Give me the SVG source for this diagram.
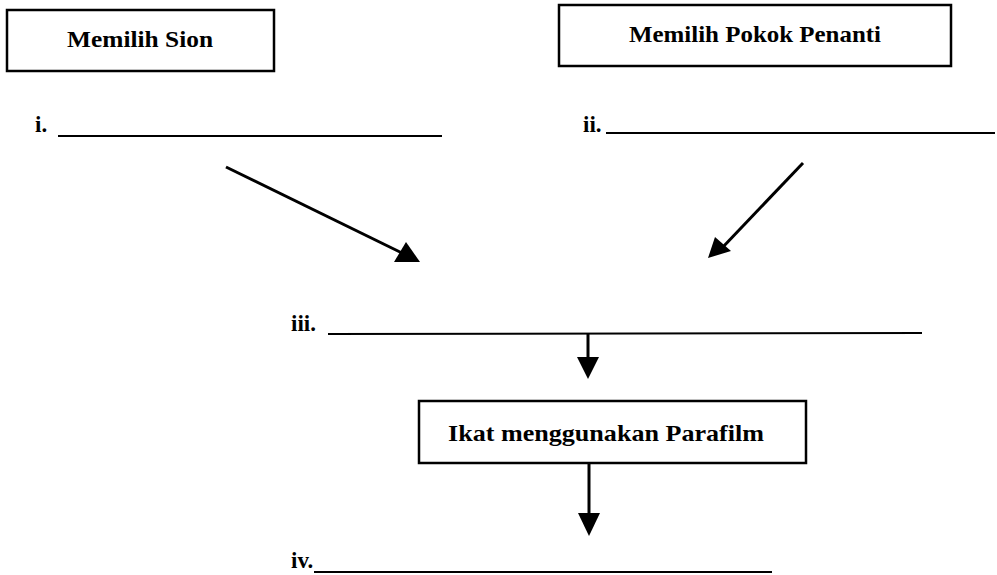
<svg xmlns="http://www.w3.org/2000/svg" width="997" height="575" viewBox="0 0 997 575">
<style>
.box{fill:#fff;stroke:#000;stroke-width:2.5}
.t{font-family:"Liberation Serif","Times New Roman",serif;font-weight:bold;font-size:23px;fill:#000}
.lbl{font-family:"Liberation Serif","Times New Roman",serif;font-weight:bold;font-size:23px;fill:#000}
.blank{stroke:#000;stroke-width:2}
.arr{stroke:#000;stroke-width:3;fill:none}
.head{fill:#000}
</style>
<rect width="997" height="575" fill="#fff"/>
<g id="node-memilih-sion">
<rect class="box" x="7" y="10" width="267" height="61"/>
<text class="t" x="67" y="47" textLength="146" lengthAdjust="spacingAndGlyphs">Memilih Sion</text>
</g>
<g id="node-memilih-pokok">
<rect class="box" x="559" y="5" width="392" height="61"/>
<text class="t" x="629" y="42" textLength="252" lengthAdjust="spacingAndGlyphs">Memilih Pokok Penanti</text>
</g>
<g id="node-i">
<text class="lbl" x="35" y="132">i.</text>
<line class="blank" x1="58" y1="136" x2="442" y2="136"/>
</g>
<g id="node-ii">
<text class="lbl" x="583" y="132">ii.</text>
<line class="blank" x1="606" y1="133" x2="995" y2="133"/>
</g>
<g id="node-iii">
<text class="lbl" x="291" y="331">iii.</text>
<line class="blank" x1="328" y1="334" x2="922" y2="333"/>
</g>
<g id="node-ikat">
<rect class="box" x="419" y="401" width="387" height="62"/>
<text class="t" x="448" y="441" textLength="316" lengthAdjust="spacingAndGlyphs">Ikat menggunakan Parafilm</text>
</g>
<g id="node-iv">
<text class="lbl" x="291" y="568">iv.</text>
<line class="blank" x1="314" y1="572" x2="772" y2="572"/>
</g>
<g id="connectors">
<line class="arr" x1="226" y1="167" x2="402" y2="253"/>
<polygon class="head" points="394,262 420,262 406,242"/>
<line class="arr" x1="803" y1="163" x2="722" y2="248"/>
<polygon class="head" points="708,258 715,237 731,251"/>
<line class="arr" x1="588" y1="333" x2="588" y2="360"/>
<polygon class="head" points="577,357 599,357 588,379"/>
<line class="arr" x1="589" y1="463" x2="589" y2="515"/>
<polygon class="head" points="578,513 600,513 589,536"/>
</g>
</svg>
